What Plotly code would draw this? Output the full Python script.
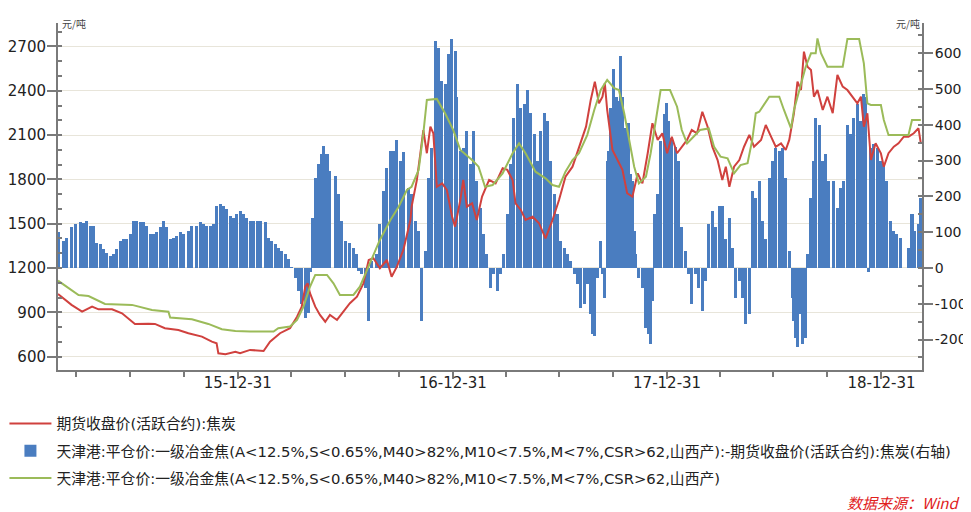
import plotly.graph_objects as go

# ---------------- data ----------------
red_name = "期货收盘价(活跃合约):焦炭"
bar_name = "天津港:平仓价:一级冶金焦(A<12.5%,S<0.65%,M40>82%,M10<7.5%,M<7%,CSR>62,山西产):-期货收盘价(活跃合约):焦炭(右轴)"
green_name = "天津港:平仓价:一级冶金焦(A<12.5%,S<0.65%,M40>82%,M10<7.5%,M<7%,CSR>62,山西产)"

red_dates = [
    "2015-02-28", "2015-03-23", "2015-04-10", "2015-04-27", "2015-05-08", "2015-05-31", "2015-06-17",
    "2015-07-09", "2015-08-01", "2015-08-12", "2015-08-29", "2015-09-21", "2015-10-08", "2015-10-31",
    "2015-11-17", "2015-11-25", "2015-11-28", "2015-12-10", "2015-12-27", "2016-01-04", "2016-01-21",
    "2016-02-13", "2016-02-24", "2016-03-12", "2016-03-29", "2016-04-10", "2016-04-18", "2016-04-24",
    "2016-04-28", "2016-05-02", "2016-05-11", "2016-05-19", "2016-05-28", "2016-06-05", "2016-06-17",
    "2016-06-28", "2016-07-09", "2016-07-21", "2016-08-01", "2016-08-10", "2016-08-18", "2016-08-29",
    "2016-09-10", "2016-09-18", "2016-09-27", "2016-10-08", "2016-10-20", "2016-10-22", "2016-10-31",
    "2016-11-06", "2016-11-11", "2016-11-17", "2016-11-23", "2016-11-28", "2016-12-04", "2016-12-13",
    "2016-12-21", "2016-12-30", "2017-01-04", "2017-01-13", "2017-01-18", "2017-01-24", "2017-02-02",
    "2017-02-10", "2017-02-19", "2017-03-03", "2017-03-14", "2017-03-26", "2017-04-03", "2017-04-12",
    "2017-04-17", "2017-04-26", "2017-05-04", "2017-05-16", "2017-05-27", "2017-06-07", "2017-06-19",
    "2017-06-30", "2017-07-11", "2017-07-23", "2017-08-03", "2017-08-15", "2017-08-23", "2017-08-30",
    "2017-09-06", "2017-09-12", "2017-09-16", "2017-09-20", "2017-09-29", "2017-10-07", "2017-10-16",
    "2017-10-24", "2017-11-02", "2017-11-11", "2017-11-19", "2017-11-28", "2017-12-06", "2017-12-15",
    "2017-12-23", "2017-12-31", "2018-01-08", "2018-01-17", "2018-01-25", "2018-02-03", "2018-02-11",
    "2018-02-20", "2018-03-01", "2018-03-10", "2018-03-18", "2018-03-27", "2018-04-04", "2018-04-10",
    "2018-04-16", "2018-04-24", "2018-05-03", "2018-05-11", "2018-05-20", "2018-05-28", "2018-06-09",
    "2018-06-17", "2018-06-26", "2018-07-04", "2018-07-13", "2018-07-21", "2018-07-27", "2018-08-04",
    "2018-08-10", "2018-08-16", "2018-08-21", "2018-08-27", "2018-09-02", "2018-09-07", "2018-09-13",
    "2018-09-22", "2018-09-30", "2018-10-09", "2018-10-17", "2018-10-26", "2018-11-03", "2018-11-12",
    "2018-11-20", "2018-11-26", "2018-12-01", "2018-12-07", "2018-12-13", "2018-12-21", "2018-12-30",
    "2019-01-04", "2019-01-12", "2019-01-21", "2019-01-29", "2019-02-07", "2019-02-15", "2019-02-24",
    "2019-03-04", "2019-03-08",
]
red_values = [
    1024, 950, 904, 938, 920, 920, 893,
    821, 823, 821, 792, 780, 758, 735,
    701, 690, 622, 616, 633, 622, 645,
    638, 701, 758, 792, 870, 938, 1073,
    1096, 1029, 938, 882, 836, 882, 848,
    904, 961, 1006, 1096, 1254, 1266, 1198,
    1254, 1141, 1209, 1322, 1525, 1615, 1796,
    1977, 2134, 1977, 2157, 2112, 1750, 1773,
    1728, 1547, 1480, 1660, 1796, 1615, 1638,
    1525, 1683, 1796, 1773, 1875, 1864, 1796,
    1638, 1593, 1525, 1547, 1503, 1401, 1525,
    1660, 1818, 1886, 2021, 2157, 2338, 2462,
    2315, 2360, 2451, 2270, 1999, 1931, 1864,
    1706, 1683, 1841, 1773, 1977, 2180, 2067,
    2112, 1977, 2089, 1977, 2021, 2067, 2134,
    2112, 2258, 2157, 2021, 1931, 1796, 1886,
    1750, 1886, 1931, 2021, 2101, 2021, 2067,
    2168, 2089, 2021, 2044, 1999, 2067, 2248,
    2462, 2405, 2665, 2563, 2541, 2360, 2405,
    2270, 2360, 2248, 2507, 2428, 2405, 2360,
    2315, 2360, 2157, 2248, 1931, 2044, 1977,
    1886, 1977, 2021, 2044, 2089, 2089, 2112,
    2146, 2044,
]

green_dates = [
    "2015-02-28", "2015-03-18", "2015-04-04", "2015-04-21", "2015-05-19", "2015-07-04", "2015-08-07",
    "2015-09-04", "2015-09-07", "2015-10-14", "2015-11-11", "2015-12-04", "2015-12-27", "2016-01-21",
    "2016-03-01", "2016-03-09", "2016-03-29", "2016-04-10", "2016-04-21", "2016-05-02", "2016-05-11",
    "2016-05-31", "2016-06-11", "2016-06-22", "2016-07-15", "2016-07-26", "2016-08-12", "2016-08-29",
    "2016-09-16", "2016-09-30", "2016-10-14", "2016-10-22", "2016-11-03", "2016-11-11", "2016-11-17",
    "2016-12-04", "2016-12-18", "2017-01-01", "2017-01-13", "2017-02-02", "2017-02-13", "2017-02-24",
    "2017-03-09", "2017-03-26", "2017-04-12", "2017-04-23", "2017-05-04", "2017-05-21", "2017-06-07",
    "2017-06-19", "2017-06-30", "2017-07-11", "2017-07-23", "2017-08-03", "2017-08-17", "2017-08-29",
    "2017-09-09", "2017-09-20", "2017-10-02", "2017-10-10", "2017-10-19", "2017-10-27", "2017-11-05",
    "2017-11-13", "2017-11-25", "2017-12-03", "2017-12-12", "2017-12-20", "2018-01-05", "2018-01-17",
    "2018-01-25", "2018-02-03", "2018-02-14", "2018-02-25", "2018-03-12", "2018-03-21", "2018-04-01",
    "2018-04-13", "2018-04-24", "2018-05-05", "2018-05-17", "2018-05-25", "2018-05-31", "2018-06-06",
    "2018-06-23", "2018-07-10", "2018-07-18", "2018-07-30", "2018-08-04", "2018-08-13", "2018-08-24",
    "2018-09-02", "2018-09-10", "2018-09-13", "2018-09-19", "2018-09-30", "2018-10-26", "2018-11-03",
    "2018-11-23", "2018-12-01", "2018-12-07", "2018-12-13", "2018-12-30", "2019-01-04", "2019-01-12",
    "2019-02-15", "2019-02-21", "2019-03-08",
]
green_values = [
    1114, 1062, 1017, 1010, 956, 950, 916,
    904, 864, 853, 821, 785, 773, 769,
    769, 792, 803, 848, 938, 1073, 1153,
    1153, 1096, 1017, 1017, 1073, 1232, 1390,
    1525, 1615, 1728, 1750, 1864, 2112, 2338,
    2345, 2248, 2134, 1999, 1931, 1886, 1750,
    1762, 1841, 1977, 2044, 1977, 1852, 1807,
    1762, 1750, 1852, 1931, 1977, 2100, 2270,
    2405, 2473, 2417, 2405, 2248, 2089, 1886,
    1773, 1818, 1977, 2202, 2405, 2405, 2292,
    2134, 2044, 2089, 2134, 2145, 2021, 1954,
    1943, 1841, 1897, 1909, 2067, 2248, 2258,
    2360, 2360, 2270, 2145, 2270, 2405, 2563,
    2654, 2654, 2755, 2654, 2563, 2563, 2751,
    2751, 2586, 2315, 2304, 2304, 2202, 2101,
    2101, 2202, 2202,
]

bar_dates = [
    "2015-03-01", "2015-03-09", "2015-03-15", "2015-03-23", "2015-03-29", "2015-04-07", "2015-04-12",
    "2015-04-18", "2015-04-24", "2015-04-29", "2015-05-05", "2015-05-11", "2015-05-16", "2015-05-22",
    "2015-05-28", "2015-06-02", "2015-06-08", "2015-06-14", "2015-06-19", "2015-06-25", "2015-07-01",
    "2015-07-06", "2015-07-12", "2015-07-18", "2015-07-24", "2015-07-29", "2015-08-04", "2015-08-10",
    "2015-08-15", "2015-08-21", "2015-08-27", "2015-09-01", "2015-09-07", "2015-09-13", "2015-09-18",
    "2015-09-24", "2015-09-30", "2015-10-08", "2015-10-14", "2015-10-22", "2015-10-28", "2015-11-03",
    "2015-11-08", "2015-11-14", "2015-11-20", "2015-11-25", "2015-12-01", "2015-12-07", "2015-12-12",
    "2015-12-18", "2015-12-24", "2015-12-29", "2016-01-04", "2016-01-10", "2016-01-15", "2016-01-21",
    "2016-01-27", "2016-02-02", "2016-02-07", "2016-02-16", "2016-02-21", "2016-02-27", "2016-03-04",
    "2016-03-09", "2016-03-15", "2016-03-21", "2016-03-26", "2016-04-01", "2016-04-07", "2016-04-12",
    "2016-04-18", "2016-04-24", "2016-04-29", "2016-05-02",
    "2016-05-07", "2016-05-11", "2016-05-17",
    "2016-05-22", "2016-05-25", "2016-05-31", "2016-06-05", "2016-06-14", "2016-06-20", "2016-06-25",
    "2016-07-01", "2016-07-09", "2016-07-15", "2016-07-21", "2016-07-24", "2016-07-29", "2016-08-04",
    "2016-08-10", "2016-08-15", "2016-08-24", "2016-08-29", "2016-09-04", "2016-09-10", "2016-09-16",
    "2016-09-21", "2016-09-27", "2016-10-03", "2016-10-08", "2016-10-17", "2016-10-22", "2016-10-28",
    "2016-11-03", "2016-11-08", "2016-11-14", "2016-11-20", "2016-11-25", "2016-12-01", "2016-12-07",
    "2016-12-12", "2016-12-18", "2016-12-24", "2016-12-29", "2017-01-04", "2017-01-07", "2017-01-13",
    "2017-01-18", "2017-01-24", "2017-01-30", "2017-02-04", "2017-02-10", "2017-02-16", "2017-02-21",
    "2017-02-27", "2017-03-06", "2017-03-11", "2017-03-17", "2017-03-23", "2017-03-28", "2017-04-03",
    "2017-04-09", "2017-04-14", "2017-04-20", "2017-04-26", "2017-05-02", "2017-05-07", "2017-05-13",
    "2017-05-19", "2017-05-24", "2017-05-30", "2017-06-05", "2017-06-10", "2017-06-16", "2017-06-22",
    "2017-06-27", "2017-07-03", "2017-07-09", "2017-07-14", "2017-07-20", "2017-07-26", "2017-07-31",
    "2017-08-06", "2017-08-12", "2017-08-17", "2017-08-23", "2017-08-26", "2017-08-30", "2017-09-03",
    "2017-09-08", "2017-09-12", "2017-09-15", "2017-09-20", "2017-09-23", "2017-09-26", "2017-09-30",
    "2017-10-05", "2017-10-10", "2017-10-13", "2017-10-16", "2017-10-22", "2017-10-27", "2017-10-30",
    "2017-11-02", "2017-11-05", "2017-11-08", "2017-11-13", "2017-11-19", "2017-11-25", "2017-11-30",
    "2017-12-03", "2017-12-06", "2017-12-09", "2017-12-15", "2017-12-20", "2017-12-26", "2017-12-30",
    "2018-01-02", "2018-01-08", "2018-01-14", "2018-01-19", "2018-01-25", "2018-01-31", "2018-02-05",
    "2018-02-11", "2018-02-17", "2018-02-22", "2018-03-01", "2018-03-07", "2018-03-12", "2018-03-18",
    "2018-03-24", "2018-03-30", "2018-04-04", "2018-04-10", "2018-04-16", "2018-04-21", "2018-04-27",
    "2018-05-03", "2018-05-08", "2018-05-14", "2018-05-20", "2018-05-25", "2018-05-31", "2018-06-06",
    "2018-06-11", "2018-06-17", "2018-06-23", "2018-06-28", "2018-07-04", "2018-07-10", "2018-07-15",
    "2018-07-21", "2018-07-27", "2018-08-01", "2018-08-04", "2018-08-07", "2018-08-10", "2018-08-13",
    "2018-08-18", "2018-08-23", "2018-08-27", "2018-09-02", "2018-09-06", "2018-09-10", "2018-09-16",
    "2018-09-22", "2018-09-27", "2018-10-02", "2018-10-11", "2018-10-17", "2018-10-23", "2018-10-28",
    "2018-11-03", "2018-11-09", "2018-11-14", "2018-11-20", "2018-11-26", "2018-11-30", "2018-12-04",
    "2018-12-09", "2018-12-13", "2018-12-18", "2018-12-24", "2018-12-30", "2019-01-04", "2019-01-09",
    "2019-01-15", "2019-01-21", "2019-01-26", "2019-02-01", "2019-02-15", "2019-02-21", "2019-02-26",
    "2019-03-04", "2019-03-08",
]
bar_values = [
    100, 75, 85, 113, 123, 127, 125,
    131, 117, 117, 71, 67, 53, 43,
    34, 39, 53, 75, 81, 81, 95,
    131, 131, 127, 127, 117, 95, 95,
    99, 113, 131, 113, 81, 85, 89,
    99, 95, 103, 117, 117, 127, 122,
    117, 117, 122, 173, 178, 173, 164,
    145, 140, 150, 159, 150, 140, 131,
    131, 131, 131, 127, 85, 75, 66,
    57, 47, 38, 24, 2, -27, -64,
    -101, -140, -127, -10,
    140, 252, 290,
    318, 341, 318, 271, 257, 206, 131,
    75, 71, 57, 38, -8, -16, -55,
    -148, 20, 38, 122, 215, 280, 327,
    327, 357, 299, 325, 224, 206, 131,
    103, -148, 47, 252, 336, 634, 615,
    522, 513, 597, 639, 606, 476, 327,
    336, 383, 290, 383, 243, 168, 94,
    38, -55, -18, -64, -18, 38, 150,
    290, 420, 513, 448, 457, 497, 432,
    374, 299, 383, 432, 411, 299, 206,
    150, 75, 57, 38, 20, -18, -46,
    -111, -102, -46, -129, -185, -190, -27,
    75, -18, -83, 299, 327, 448, 555,
    478, 465, 592, 478, 392, 406, 262,
    243, 103, 38, -27, -55, -167, -185,
    -213, -92, 150, 206, 355, 429, 462,
    411, 364, 338, 299, 113, 47, -18,
    -102, -18, -55, -120, -37, 122, 159,
    113, 173, 173, 80, 140, 57, -83,
    -37, -83, -157, -129, 215, 196, 243,
    131, 80, 252, 299, 336, 327, 336,
    252, 47, -83, -148, -195, -222, -129,
    -213, -195, 38, 196, 299, 420, 400,
    299, 318, 243, 243, 168, 224, 243,
    400, 374, 420, 457, 411, 485, 476,
    -10, 336, 345, 336, 299, 290, 243,
    131, 103, 94, 85, 57, 150, 103,
    122, 196,
]

x_tick_vals = ["2015-12-31", "2016-12-31", "2017-12-31", "2018-12-31"]
x_tick_text = ["15-12-31", "16-12-31", "17-12-31", "18-12-31"]
x_minor_vals = ["2015-03-31", "2015-06-30", "2015-09-30", "2016-03-31", "2016-06-30", "2016-09-30",
                "2017-03-31", "2017-06-30", "2017-09-30", "2018-03-31", "2018-06-30", "2018-09-30"]
left_ticks = [600, 900, 1200, 1500, 1800, 2100, 2400, 2700]
right_ticks = [-200, -100, 0, 100, 200, 300, 400, 500, 600]
right_tick_text = ["-200", "-100", "0", "100", "200", "300", "400", "500", "600"]

# ---------------- style ----------------
RED = "#D0413E"
GREEN = "#9BBB59"
BLUE = "#4A7DC0"
AXIS = "#7a7a7a"
GRID = "#E8E5DA"
TXT = "#222222"
NUMFONT = "DejaVu Sans"
CJK = "Noto Sans CJK SC"
LEGFONT = "DejaVu Sans, Noto Sans CJK SC"

fig = go.Figure()
fig.add_trace(go.Scatter(
    x=red_dates, y=red_values, name=red_name, mode="lines",
    line=dict(color=RED, width=2), yaxis="y2", legendgroup="a"))
fig.add_trace(go.Bar(
    x=bar_dates, y=bar_values, name=bar_name, yaxis="y",
    marker=dict(color=BLUE, line=dict(width=0)),
    width=5.2 * 86400000, legendgroup="b"))
fig.add_trace(go.Scatter(
    x=green_dates, y=green_values, name=green_name, mode="lines",
    line=dict(color=GREEN, width=2), yaxis="y2", legendgroup="c"))

# the page body has an 8px margin, so the figure is 8px smaller than the window
fig.update_layout(
    width=963, height=504,
    margin=dict(l=50, r=49, t=15, b=142, autoexpand=False),
    paper_bgcolor="white", plot_bgcolor="white",
    bargap=0,
    showlegend=True,
    legend=dict(
        orientation="v", x=-0.062, xanchor="left", y=-0.108, yanchor="top",
        font=dict(family=LEGFONT, size=14.8, color=TXT),
        tracegroupgap=5, traceorder="grouped",
        bgcolor="rgba(0,0,0,0)", itemwidth=42,
    ),
    xaxis=dict(
        type="date", range=["2015-02-28", "2019-03-10"],
        tickmode="array", tickvals=x_tick_vals, ticktext=x_tick_text,
        ticks="outside", ticklen=7, tickwidth=1.5, tickcolor=AXIS,
        minor=dict(tickmode="array", tickvals=x_minor_vals, ticks="outside",
                   ticklen=5, tickwidth=1.5, tickcolor=AXIS, showgrid=False),
        showline=True, linecolor=AXIS, linewidth=2, showgrid=False, zeroline=False,
        tickfont=dict(family=NUMFONT, size=15, color=TXT),
        ticklabelstandoff=-9,
    ),
    yaxis=dict(
        side="right", range=[-285, 684],
        tickmode="array", tickvals=right_ticks, ticktext=right_tick_text,
        ticks="outside", ticklen=9, tickwidth=1.5, tickcolor=AXIS,
        minor=dict(dtick=50, tick0=0, ticks="inside", ticklen=4, tickcolor=AXIS, showgrid=False),
        showline=True, linecolor=AXIS, linewidth=2, showgrid=False, zeroline=False,
        tickfont=dict(family=NUMFONT, size=14, color=TXT),
        ticklabelstandoff=-1,
    ),
    yaxis2=dict(
        overlaying="y", side="left", range=[509, 2859],
        tickmode="array", tickvals=left_ticks,
        ticks="outside", ticklen=9, tickwidth=1.5, tickcolor=AXIS,
        minor=dict(dtick=100, tick0=0, ticks="inside", ticklen=4, tickcolor=AXIS, showgrid=False),
        showline=True, linecolor=AXIS, linewidth=2,
        showgrid=True, gridcolor=GRID, gridwidth=1, zeroline=False,
        tickfont=dict(family=NUMFONT, size=15, color=TXT),
        ticklabelstandoff=-2,
    ),
    annotations=[
        dict(text="元/吨", xref="paper", yref="paper", x=0.002, y=1.0, xanchor="left",
             yanchor="middle", showarrow=False, font=dict(family=CJK, size=10, color="#444")),
        dict(text="元/吨", xref="paper", yref="paper", x=1.0, y=1.0, xanchor="right",
             yanchor="middle", showarrow=False, font=dict(family=CJK, size=10, color="#444")),
        dict(text="数据来源：Wind ", xref="paper", yref="paper", x=1.047, y=-0.381,
             xanchor="right", yanchor="middle", showarrow=False,
             font=dict(family=CJK, size=15, color="#E0201B", style="italic")),
    ],
)

fig.write_html("out.html")
